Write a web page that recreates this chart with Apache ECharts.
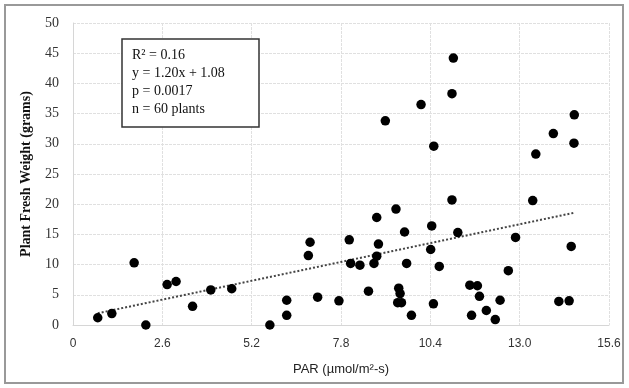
<!DOCTYPE html>
<html><head><meta charset="utf-8">
<script src="https://cdn.jsdelivr.net/npm/echarts@6/dist/echarts.min.js"></script>
<style>html,body{margin:0;padding:0;background:#fff}#c{width:629px;height:388px}</style>
</head><body><div id="c"></div>
<script>
const parValues = [0.72,1.13,1.78,2.12,2.74,3.0,3.48,4.01,4.62,
  5.73,6.22,6.22,6.9,6.85,7.12,7.74,8.04,8.08,8.35,8.6,8.84,8.89,8.84,8.76,9.4,9.65,9.71,9.48,9.52,9.45,9.56,9.85,10.44,10.41,10.66,10.49,
  11.2,12.88,14.5,12.67,11.55,11.77,11.83,12.43,11.6,12.03,12.29,14.14,14.44,
  10.13,9.09,10.5,
  11.07,11.03,14.59,13.98,14.58,13.47,11.03,13.38];
const weightValues = [1.2,1.9,10.3,0,6.7,7.2,3.1,5.8,6.0,
  0,4.1,1.6,13.7,11.5,4.6,4.0,14.1,10.2,9.9,5.6,17.8,13.4,11.4,10.2,19.2,15.4,10.2,6.1,5.2,3.7,3.7,1.6,16.4,12.5,9.7,3.5,
  15.3,14.5,13.0,9.0,6.6,6.5,4.75,4.1,1.6,2.4,0.9,3.9,4.0,
  36.5,33.8,29.6,
  44.2,38.3,34.8,31.7,30.1,28.3,20.7,20.6];
const xTicks = [0,2.6,5.2,7.8,10.4,13.0,15.6];
const trendSlope = 1.20, trendIntercept = 1.08;
const statLines = ['R\u00B2 = 0.16','y = 1.20x + 1.08','p = 0.0017','n = 60 plants'];

const pts = parValues.map((x,i)=>[x, weightValues[i]]);
const xMin = Math.min(...parValues), xMax = Math.max(...parValues);
const trend = [[xMin, trendSlope*xMin+trendIntercept],[xMax, trendSlope*xMax+trendIntercept]];

const chart = echarts.init(document.getElementById('c'));
const gridLine = {show:true, lineStyle:{color:'#e0e0e0', width:1, type:[3,1]}};
chart.setOption({
  animation:false,
  grid:{left:73, right:20, top:23, bottom:63},
  xAxis:{type:'value', min:0, max:15.6, interval:2.6,
    axisLine:{show:true, lineStyle:{color:'#d6d6d6'}}, axisTick:{show:false},
    splitLine:gridLine,
    axisLabel:{fontFamily:'Liberation Sans', fontSize:12, color:'#333', margin:13,
      formatter:v=>{const t=xTicks.find(k=>Math.abs(k-v)<1e-6);return t===undefined?'':t.toFixed(1).replace(/^0\.0$/,'0');}},
    name:'PAR (\u00B5mol/m\u00B2-s)', nameLocation:'middle', nameGap:38,
    nameTextStyle:{fontFamily:'Liberation Sans', fontSize:13, color:'#222'}},
  yAxis:{type:'value', min:0, max:50, interval:5,
    axisLine:{show:true, lineStyle:{color:'#d6d6d6'}}, axisTick:{show:false},
    splitLine:gridLine,
    axisLabel:{fontFamily:'Liberation Serif', fontSize:14, color:'#333', margin:14},
    name:'Plant Fresh Weight (grams)', nameLocation:'middle', nameGap:40,
    nameTextStyle:{fontFamily:'Liberation Serif', fontSize:14, fontWeight:'bold', color:'#111'}},
  series:[
    {type:'scatter', data:pts, symbolSize:9.5, itemStyle:{color:'#000', opacity:1}, z:3},
    {type:'line', data:trend, symbol:'none', lineStyle:{color:'#444', width:2, type:[2,2]}, z:2}
  ],
  graphic:[
    {type:'rect', shape:{x:5,y:5,width:618,height:378}, style:{fill:'none', stroke:'#999', lineWidth:2}, z:0},
    {type:'rect', shape:{x:122,y:39,width:137,height:88}, style:{fill:'#fff', stroke:'#333', lineWidth:1.5}, z:10},
    {type:'text', left:132, top:46, z:11, style:{text:statLines.join('\n'), fontFamily:'Liberation Serif', fontSize:14, lineHeight:18, fill:'#111'}}
  ]
});
</script></body></html>
